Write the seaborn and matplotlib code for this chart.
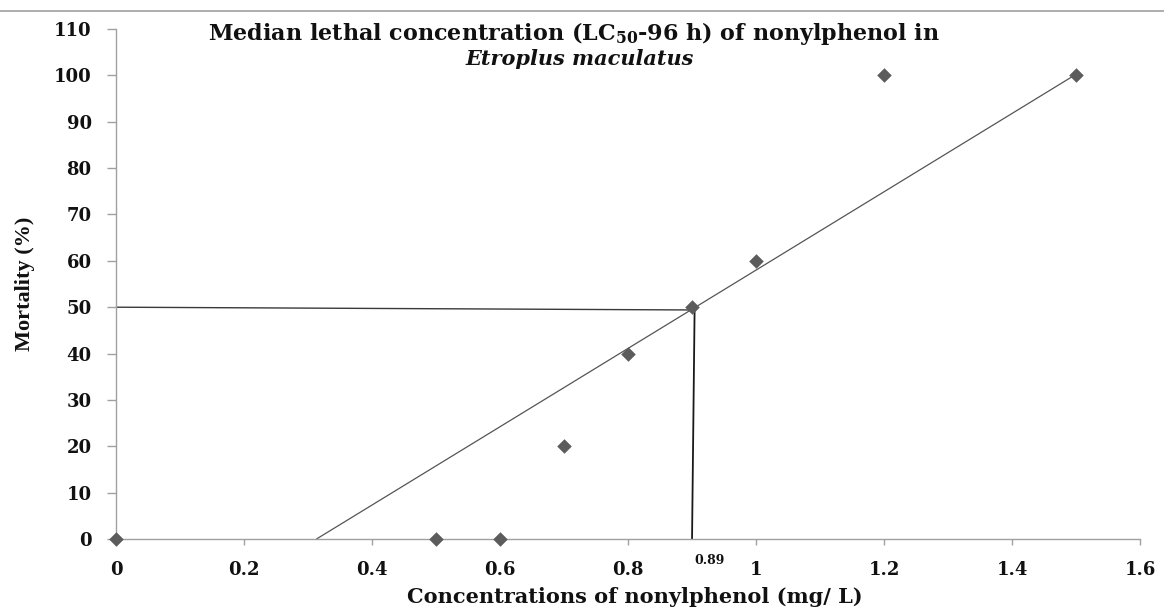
import numpy as np
import pandas as pd
import matplotlib
matplotlib.use("Agg")
import matplotlib.pyplot as plt
import seaborn as sns
from matplotlib.lines import Line2D

# Data
concentration = [0, 0.5, 0.6, 0.7, 0.8, 0.9, 1.0, 1.2, 1.5]
mortality = [0, 0, 0, 20, 40, 50, 60, 100, 100]
lc50 = 0.90
lc50_label = "0.89"
lc50_mortality = 50
x_ticks = [0, 0.2, 0.4, 0.6, 0.8, 1.0, 1.2, 1.4, 1.6]
x_tick_labels = ["0", "0.2", "0.4", "0.6", "0.8", "1", "1.2", "1.4", "1.6"]
y_ticks = list(range(0, 111, 10))

sns.set_theme(style="white")
plt.rcParams["font.family"] = ["DejaVu Serif", "Liberation Serif"]
plt.rcParams["mathtext.fontset"] = "dejavuserif"

df = pd.DataFrame({"conc": concentration, "mort": mortality})

fig = plt.figure(figsize=(11.64, 6.10), dpi=100)
ax = fig.add_axes([0.0997, 0.1164, 0.8797, 0.836])

# linear trend line of the data, from its x-intercept to the last point
slope, intercept = np.polyfit(concentration, mortality, 1)
x0 = -intercept / slope
x1 = max(concentration)
ax.plot([x0, x1], [slope * x0 + intercept, slope * x1 + intercept],
        color="#555555", lw=0.9, zorder=2)

# LC50 guide lines
ax.plot([0, lc50 + 0.004], [lc50_mortality, lc50_mortality - 0.6],
        color="#3a3a3a", lw=1.0, zorder=2)
ax.plot([lc50 + 0.004, lc50], [lc50_mortality - 0.6, 0],
        color="#1a1a1a", lw=1.3, zorder=2)

sns.scatterplot(data=df, x="conc", y="mort", ax=ax, marker="D", s=55,
                color="#5c5c5c", edgecolor="#5c5c5c", linewidth=0, zorder=3,
                clip_on=False, legend=False)

ax.set_xlim(0, 1.6)
ax.set_ylim(0, 110)
ax.set_xticks(x_ticks)
ax.set_xticklabels(x_tick_labels)
ax.set_yticks(y_ticks)

for lbl in ax.get_xticklabels() + ax.get_yticklabels():
    lbl.set_fontweight("bold")
    lbl.set_fontsize(13)
    lbl.set_color("#111111")

ax.tick_params(axis="y", direction="out", length=6.5, width=1, color="#a0a0a0",
               pad=11, left=True)
ax.tick_params(axis="x", direction="out", length=4.5, width=1, color="#a0a0a0",
               pad=11, bottom=True)

for side in ["top", "right"]:
    ax.spines[side].set_visible(False)
for side in ["left", "bottom"]:
    ax.spines[side].set_color("#a0a0a0")
    ax.spines[side].set_linewidth(1.0)

ax.set_xlabel("Concentrations of nonylphenol (mg/ L)", fontsize=15,
              fontweight="bold", labelpad=6, color="#111111")
ax.xaxis.label.set_position((0.507, 0))
ax.set_ylabel("Mortality (%)", fontsize=16, fontweight="bold", labelpad=14,
              family="Liberation Serif", color="#111111")

ax.text(0.928, -4.6, lc50_label, fontsize=9, fontweight="bold",
        ha="center", va="center", color="#111111")

# Title inside plot area
ax.text(0.447, 0.978,
        r"Median lethal concentration (LC$_\mathbf{50}$-96 h) of nonylphenol in",
        transform=ax.transAxes, fontsize=16, fontweight="bold",
        ha="center", va="baseline", color="#111111")
ax.text(0.453, 0.930, "Etroplus maculatus", transform=ax.transAxes, fontsize=15,
        fontweight="bold", style="italic", ha="center", va="baseline",
        color="#111111")

# thin rule at the top of the figure
fig.add_artist(Line2D([0, 1], [0.982, 0.982], transform=fig.transFigure,
                      color="#a0a0a0", lw=1.2))

fig.savefig("out.png", dpi=100)
